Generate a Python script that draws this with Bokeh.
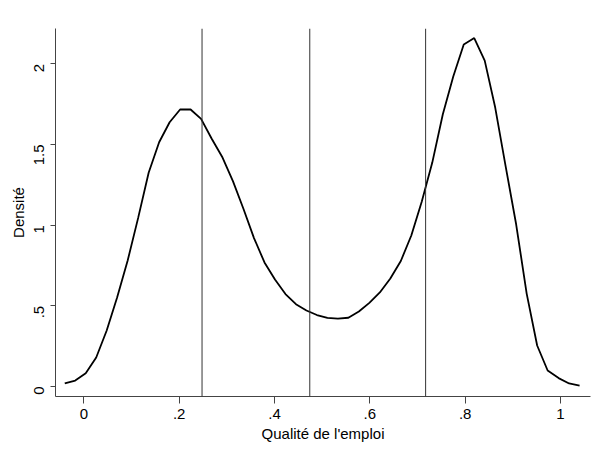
import math
from bokeh.plotting import figure
from bokeh.models import FixedTicker, Span, Range1d
from bokeh.embed import file_html
from bokeh.resources import INLINE

# Kernel density estimate (50 evaluation points)
x_grid = [-0.040, -0.018, 0.004, 0.026, 0.048, 0.070, 0.092, 0.114, 0.136, 0.158,
          0.180, 0.202, 0.224, 0.246, 0.268, 0.291, 0.313, 0.335, 0.357, 0.379,
          0.401, 0.423, 0.445, 0.467, 0.489, 0.511, 0.533, 0.555, 0.577, 0.599,
          0.621, 0.643, 0.665, 0.687, 0.709, 0.731, 0.753, 0.775, 0.797, 0.819,
          0.841, 0.863, 0.885, 0.907, 0.929, 0.951, 0.973, 0.996, 1.018, 1.040]
density = [0.020, 0.037, 0.082, 0.180, 0.347, 0.553, 0.781, 1.045, 1.325, 1.514,
           1.638, 1.717, 1.717, 1.659, 1.537, 1.419, 1.271, 1.100, 0.920, 0.769,
           0.663, 0.573, 0.510, 0.471, 0.443, 0.425, 0.421, 0.426, 0.465, 0.518,
           0.583, 0.669, 0.778, 0.936, 1.147, 1.388, 1.686, 1.921, 2.120, 2.160,
           2.020, 1.729, 1.363, 1.004, 0.576, 0.254, 0.099, 0.052, 0.019, 0.006]

# Vertical reference lines
cut_points = [0.248, 0.474, 0.717]

x_ticks = [0, 0.2, 0.4, 0.6, 0.8, 1]
x_tick_labels = ["0", ".2", ".4", ".6", ".8", "1"]
y_ticks = [0, 0.5, 1, 1.5, 2]
y_tick_labels = ["0", ".5", "1", "1.5", "2"]

x_title = "Qualité de l'emploi"
y_title = "Densité"

FONT = "Liberation Sans"

p = figure(width=595, height=450, output_backend="svg", toolbar_location=None,
           x_range=Range1d(-0.0594, 1.0629), y_range=Range1d(-0.062, 2.219),
           min_border_left=55, min_border_right=5, min_border_top=28, min_border_bottom=54)
p.outline_line_color = None
p.grid.visible = False
p.background_fill_color = "white"
p.border_fill_color = "white"

for c in cut_points:
    p.add_layout(Span(location=c, dimension="height", line_color="#333333", line_width=1))

p.line(x_grid, density, line_color="black", line_width=1.8)

# x axis
xa = p.xaxis[0]
xa.ticker = FixedTicker(ticks=x_ticks)
xa.major_label_overrides = {t: l for t, l in zip(x_ticks, x_tick_labels)}
xa.axis_label = x_title
xa.axis_label_text_font = FONT
xa.axis_label_text_font_size = "15px"
xa.axis_label_text_font_style = "normal"
xa.axis_label_text_color = "black"
xa.axis_label_standoff = 3
xa.major_label_text_font = FONT
xa.major_label_text_font_size = "15px"
xa.major_label_text_color = "black"
xa.major_label_standoff = 5
xa.major_tick_out = 7
xa.major_tick_in = 0
xa.minor_tick_out = 0
xa.minor_tick_in = 0
xa.axis_line_color = "#444444"
xa.major_tick_line_color = "#444444"

# y axis
ya = p.yaxis[0]
ya.ticker = FixedTicker(ticks=y_ticks)
ya.major_label_overrides = {t: l for t, l in zip(y_ticks, y_tick_labels)}
ya.axis_label = y_title
ya.axis_label_text_font = FONT
ya.axis_label_text_font_size = "15px"
ya.axis_label_text_font_style = "normal"
ya.axis_label_text_color = "black"
ya.axis_label_standoff = 0
ya.major_label_text_font = FONT
ya.major_label_text_font_size = "15px"
ya.major_label_text_color = "black"
ya.major_label_orientation = math.pi / 2
ya.major_label_standoff = 11
ya.major_tick_out = 5
ya.major_tick_in = 0
ya.minor_tick_out = 0
ya.minor_tick_in = 0
ya.axis_line_color = "#444444"
ya.major_tick_line_color = "#444444"

open("out.html", "w").write(file_html(p, INLINE))
